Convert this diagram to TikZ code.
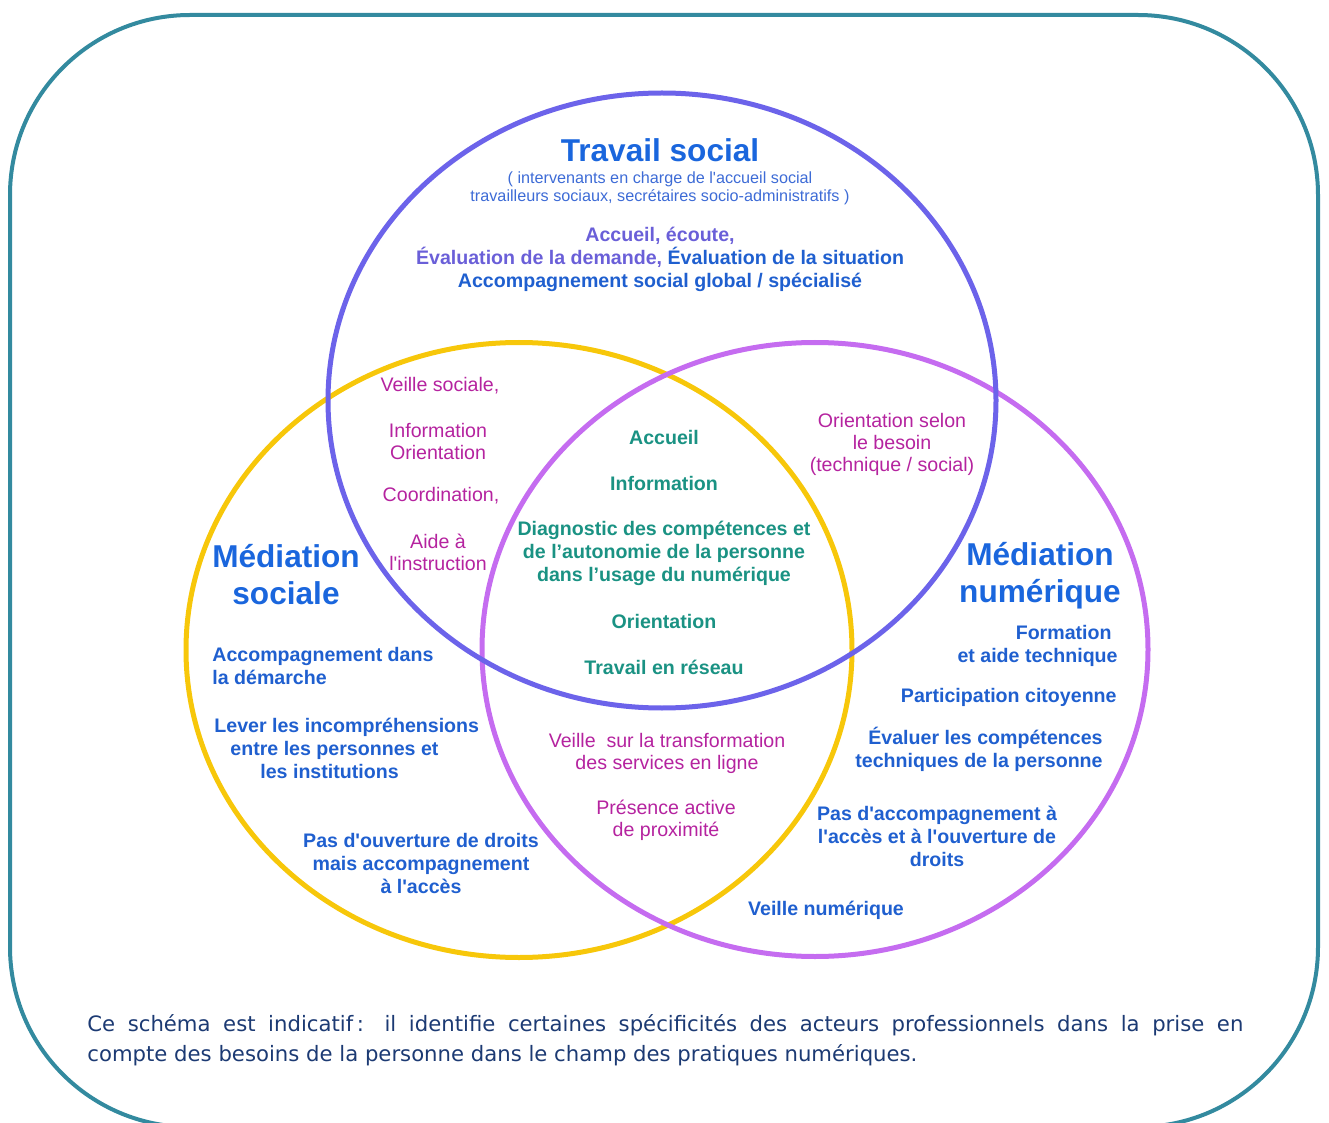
\documentclass[tikz,border=0pt]{standalone}
\usepackage{fontspec}
\setmainfont{Liberation Sans}[Ligatures=TeXOff]
\newfontfamily\verd{DejaVu Sans}[Ligatures=TeXOff]
\definecolor{framec}{HTML}{338A9F}
\definecolor{cblue}{HTML}{6C63EA}
\definecolor{cyel}{HTML}{F7C70A}
\definecolor{cpurp}{HTML}{C56CF0}
\definecolor{titleblue}{HTML}{1A66DD}
\definecolor{textblue}{HTML}{1F5FCF}
\definecolor{subblue}{HTML}{3D6BD6}
\definecolor{violetc}{HTML}{6A5FD8}
\definecolor{magc}{HTML}{B5239F}
\definecolor{tealc}{HTML}{1A9283}
\definecolor{navyc}{HTML}{1C3A73}
\tikzset{
  ring/.style={line width=2.5pt},
  title/.style={text=titleblue, font=\bfseries\fontsize{15.8}{18.5}\selectfont, align=center, inner sep=0pt},
  sub/.style={text=subblue, font=\fontsize{8.1}{9}\selectfont, align=center, inner sep=0pt},
  bluetxt/.style={text=textblue, font=\bfseries\fontsize{9.8}{11.5}\selectfont, align=center, inner sep=0pt},
  magtxt/.style={text=magc, font=\fontsize{9.8}{11}\selectfont, align=center, inner sep=0pt},
  tealtxt/.style={text=tealc, font=\bfseries\fontsize{9.8}{11.5}\selectfont, align=center, inner sep=0pt},
}
\begin{document}
\begin{tikzpicture}[x=0.5pt,y=-0.5pt]
\useasboundingbox (0,0) rectangle (1329,1123);
\begin{scope}
\clip (0,0) rectangle (1329,1123);
\draw[framec, line width=2pt, rounded corners=90pt] (10,15) rectangle (1318,1127);
\end{scope}
% circles
\draw[ring, cyel] (519,650) ellipse [x radius=166.5pt, y radius=153.75pt];
\draw[ring, cpurp] (815,649.5) ellipse [x radius=166.5pt, y radius=153.5pt];
\draw[ring, cblue] (662,400.5) ellipse [x radius=167pt, y radius=153.75pt];
% Travail social
\node[title] (ts) at (660,150) {Travail social};
\node[sub] (tssub) at (660,188) {( intervenants en charge de l'accueil social\\travailleurs sociaux, secrétaires socio-administratifs )};
\node[bluetxt] (tsmain) at (660,259) {{\color{violetc}Accueil, écoute,}\\{\color{violetc}Évaluation de la demande,} Évaluation de la situation\\Accompagnement social global / spécialisé};
% left lens
\node[magtxt] (ll1) at (440,386) {Veille sociale,};
\node[magtxt] (ll2) at (438,441) {Information\\Orientation};
\node[magtxt] (ll3) at (441,496) {Coordination,};
\node[magtxt] (ll4) at (438,552) {Aide à\\l'instruction};
% center
\node[tealtxt] (c1) at (664,437) {Accueil};
\node[tealtxt] (c2) at (664,483) {Information};
\node[tealtxt] (c3) at (664,553) {Diagnostic des compétences et\\de l’autonomie de la personne\\dans l’usage du numérique};
\node[tealtxt] (c4) at (664,621) {Orientation};
\node[tealtxt] (c5) at (664,667) {Travail en réseau};
% right lens
\node[magtxt] (rl) at (892,444) {Orientation selon\\le besoin\\(technique / social)};
% Mediation sociale
\node[title] (ms) at (286,575) {Médiation\\sociale};
\node[bluetxt, anchor=west, align=left] (ms1) at (212,666) {Accompagnement dans\\la démarche};
\node[bluetxt, anchor=west, align=left] (ms2) at (214,748) {Lever les incompréhensions\\\hspace*{8pt}entre les personnes et\\\hspace*{23pt}les institutions};
\node[bluetxt] (ms3) at (421,863) {Pas d'ouverture de droits\\mais accompagnement\\à l'accès};
% bottom lens
\node[magtxt] (bl1) at (667,753) {Veille\ \ sur la transformation\\des services en ligne};
\node[magtxt] (bl2) at (666,820) {Présence active\\de proximité};
% Mediation numerique
\node[title] (mn) at (1040,576) {Médiation\\numérique};
\node[bluetxt, anchor=east, align=right] (mn1) at (1118,646) {Formation\hspace*{3pt}\\et aide technique};
\node[bluetxt, anchor=east] (mn2) at (1117,697) {Participation citoyenne};
\node[bluetxt, anchor=east, align=right] (mn3) at (1103,749) {Évaluer les compétences\\techniques de la personne};
\node[bluetxt] (mn4) at (937,836) {Pas d'accompagnement à\\l'accès et à l'ouverture de\\droits};
\node[bluetxt] (mn5) at (826,910) {Veille numérique};
% footnote
\node[anchor=north west, inner sep=0pt, text width=578pt, align=justify, text=navyc,
      font=\verd\fontsize{10.6}{15}\selectfont] (fn) at (87,1014)
 {Ce schéma est indicatif\,: il identifie certaines spécificités des acteurs professionnels dans la prise en\linebreak compte des besoins de la personne dans le champ des pratiques numériques.};
\end{tikzpicture}
\end{document}
